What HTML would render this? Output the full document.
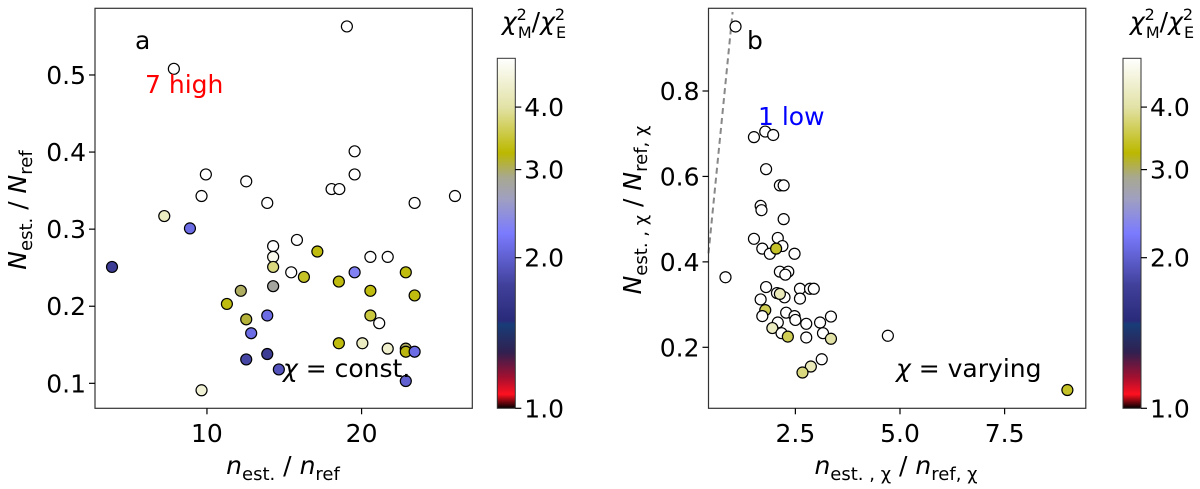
<!DOCTYPE html>
<html><head><meta charset="utf-8"><style>
body{margin:0;background:#fff}
svg{display:block;font-family:"DejaVu Sans","Liberation Sans",sans-serif}
</style></head><body>
<svg id="fig" width="1200" height="489" viewBox="0 0 1200 489" xmlns="http://www.w3.org/2000/svg">
<defs>
<linearGradient id="cmap" x1="0" y1="1" x2="0" y2="0">
<stop offset="0" stop-color="#000000"/><stop offset="0.04" stop-color="#ff1020"/>
<stop offset="0.09" stop-color="#a01030"/><stop offset="0.16" stop-color="#302050"/>
<stop offset="0.24" stop-color="#183c78"/><stop offset="0.25" stop-color="#2a2a7a"/>
<stop offset="0.35" stop-color="#40409a"/><stop offset="0.5" stop-color="#7b7bff"/>
<stop offset="0.6" stop-color="#a0a0c0"/><stop offset="0.66" stop-color="#a8a890"/>
<stop offset="0.73" stop-color="#bcb800"/><stop offset="0.86" stop-color="#e2e2a6"/>
<stop offset="1" stop-color="#ffffff"/>
</linearGradient>
</defs>
<g id="layer"></g>
</svg>
<script>
const aX=[19.05,7.86,19.55,9.93,19.55,12.54,18.06,18.56,9.65,26.04,13.9,23.43,7.24,8.9,3.86,14.28,15.82,14.28,17.14,20.57,21.69,14.28,15.45,16.27,19.55,22.86,18.53,14.28,12.19,20.57,23.43,11.29,12.54,13.9,20.57,21.14,12.86,18.53,20.05,21.69,22.86,22.86,23.43,12.54,13.9,14.65,22.86,9.65];
const aY=[0.563,0.508,0.401,0.371,0.371,0.362,0.352,0.352,0.343,0.343,0.334,0.334,0.317,0.301,0.251,0.278,0.286,0.264,0.271,0.264,0.264,0.251,0.244,0.238,0.244,0.244,0.232,0.226,0.220,0.220,0.214,0.203,0.183,0.188,0.188,0.178,0.165,0.152,0.152,0.145,0.145,0.141,0.141,0.131,0.138,0.118,0.103,0.091];
const aV=[5,5,5,5,5,5,5,5,5,5,5,5,4.3,2.1,1.7,5,5,4.8,3.3,5,5,3.8,5,3.4,2.3,3.3,3.3,2.8,3.0,3.3,3.3,3.3,3.1,2.1,3.5,5,2.1,3.3,4.3,4.4,3.0,3.2,2.1,1.8,1.7,1.9,2.0,4.5];
const bX=[1.07,1.51,1.78,1.97,1.80,2.13,2.22,1.67,1.69,2.22,1.51,2.08,1.71,1.89,2.19,2.04,2.48,0.83,2.13,2.33,2.26,1.80,2.06,2.24,2.13,2.61,2.61,2.85,2.94,1.67,1.78,1.71,2.28,2.48,2.5,2.08,2.76,3.09,3.35,1.95,2.17,3.16,2.32,2.76,3.35,4.71,3.13,2.87,2.67,9.0];
const bY=[0.951,0.692,0.705,0.697,0.617,0.579,0.579,0.531,0.521,0.500,0.454,0.456,0.431,0.419,0.437,0.431,0.419,0.364,0.377,0.377,0.370,0.341,0.327,0.317,0.325,0.337,0.314,0.337,0.337,0.312,0.287,0.273,0.281,0.273,0.264,0.258,0.255,0.258,0.272,0.245,0.233,0.233,0.225,0.223,0.220,0.227,0.172,0.155,0.141,0.100];
const bV=[5,5,5,5,5,5,5,5,5,5,5,5,5,5,5,3.4,5,5,5,5,5,5,5,5,4.2,5,5,5,5,5,3.6,5,5,5,5,5,5,5,5,4.3,5,5,3.6,5,4.0,5,5,4.2,3.8,3.4];
const aXTicks=[10,20], aYTicks=[0.1,0.2,0.3,0.4,0.5];
const bXTicks=[2.5,5.0,7.5], bYTicks=[0.2,0.4,0.6,0.8];
const cTicks=[1.0,2.0,3.0,4.0];
const dashX=[0.424,1.0], dashY=[0.42,0.985];

const NS="http://www.w3.org/2000/svg";
const L=document.getElementById('layer');
function mk(tag,attrs,parent){const e=document.createElementNS(NS,tag);for(const k in attrs)e.setAttribute(k,attrs[k]);(parent||L).appendChild(e);return e;}
const stops=[[0,[0,0,0]],[0.04,[255,16,32]],[0.09,[160,16,48]],[0.16,[48,32,80]],[0.24,[24,60,120]],[0.25,[42,42,122]],[0.35,[64,64,154]],[0.5,[123,123,255]],[0.6,[160,160,192]],[0.66,[168,168,144]],[0.73,[188,184,0]],[0.86,[226,226,166]],[1,[255,255,255]]];
function cmap(v){let t=Math.log(v)/Math.log(5);t=Math.max(0,Math.min(1,t));
for(let i=1;i<stops.length;i++){if(t<=stops[i][0]){const a=stops[i-1],b=stops[i];const f=(t-a[0])/(b[0]-a[0]);const c=a[1].map((x,j)=>Math.round(x+(b[1][j]-x)*f));return `rgb(${c.join(',')})`;}}return '#fff';}

function panel(p){
  const sx=v=>p.l+(v-p.x0)/(p.x1-p.x0)*(p.r-p.l);
  const sy=v=>p.b-(v-p.y0)/(p.y1-p.y0)*(p.b-p.t);
  const g=mk('g',{});
  
  
  if(p.dash){const ln=mk('line',{x1:sx(p.dash[0][0]),y1:sy(p.dash[1][0]),x2:sx(p.dash[0][1]),y2:sy(p.dash[1][1]),stroke:'#888','stroke-width':2,'stroke-dasharray':'6,4'},g);
    
    }
  for(let i=0;i<p.X.length;i++){
    const c=mk('circle',{cx:sx(p.X[i]),cy:sy(p.Y[i]),r:5.5,fill:cmap(p.V[i]),stroke:'#000','stroke-width':1.2},g);
    
    
  }
  const fr=mk('rect',{x:p.l,y:p.t,width:p.r-p.l,height:p.b-p.t,fill:'none',stroke:'#333','stroke-width':1.2},g);
  
  
  p.xt.forEach(v=>{const x=sx(v);mk('line',{x1:x,y1:p.b,x2:x,y2:p.b+6,stroke:'#000','stroke-width':1.2},g);
    const t=mk('text',{x:x,y:442,'font-size':25,'text-anchor':'middle'},g);t.textContent=v.toFixed(p.xd);
    
    });
  p.yt.forEach(v=>{const y=sy(v);mk('line',{x1:p.l-6,y1:y,x2:p.l,y2:y,stroke:'#000','stroke-width':1.2},g);
    const t=mk('text',{x:p.l-9,y:y+9,'font-size':25,'text-anchor':'end'},g);t.textContent=v.toFixed(1);
    
    });
  const cb=mk('rect',{x:p.cbx,y:58.3,width:18,height:350,fill:'url(#cmap)',stroke:'#333','stroke-width':1},g);
  
  
  cTicks.forEach(v=>{const y=408.3-Math.log10(v)*500.3;mk('line',{x1:p.cbx+18,y1:y,x2:p.cbx+24,y2:y,stroke:'#000','stroke-width':1.2},g);
    const t=mk('text',{x:p.cbx+27,y:y+9,'font-size':25},g);t.textContent=v.toFixed(1);
    
    });
}
panel({name:'panel-a',l:95,r:472.3,t:8.3,b:408.3,x0:2.76,x1:27.16,y0:0.0676,y1:0.5865,X:aX,Y:aY,V:aV,xt:aXTicks,yt:aYTicks,xd:0,cbx:497.3});
panel({name:'panel-b',l:708.5,r:1085.8,t:8.3,b:408.3,x0:0.424,x1:9.44,y0:0.0572,y1:0.9936,X:bX,Y:bY,V:bV,xt:bXTicks,yt:bYTicks,xd:1,cbx:1123,dash:[dashX,dashY]});
</script>
<svg width="1200" height="489" style="position:absolute;left:0;top:0" font-family="DejaVu Sans, Liberation Sans, sans-serif">
<text x="135" y="49" font-size="25">a</text>
<text x="145" y="93" font-size="25" fill="#ff0000">7 high</text>
<text x="283" y="377" font-size="25"><tspan font-style="italic">χ</tspan> = const.</text>
<text x="747" y="49" font-size="25">b</text>
<text x="758" y="125" font-size="25" fill="#0000ff">1 low</text>
<text x="896" y="377" font-size="25"><tspan font-style="italic">χ</tspan> = varying</text>
<text x="534" y="30" font-size="25" text-anchor="middle"><tspan font-style="italic">χ</tspan><tspan font-size="16" dy="-10">2</tspan><tspan font-size="16" dx="-9" dy="18">M</tspan><tspan dy="-8">/</tspan><tspan font-style="italic">χ</tspan><tspan font-size="16" dy="-10">2</tspan><tspan font-size="16" dx="-9" dy="18">E</tspan></text>
<text x="1162" y="30" font-size="25" text-anchor="middle"><tspan font-style="italic">χ</tspan><tspan font-size="16" dy="-10">2</tspan><tspan font-size="16" dx="-9" dy="18">M</tspan><tspan dy="-8">/</tspan><tspan font-style="italic">χ</tspan><tspan font-size="16" dy="-10">2</tspan><tspan font-size="16" dx="-9" dy="18">E</tspan></text>
<text x="283" y="474" font-size="25" text-anchor="middle"><tspan font-style="italic">n</tspan><tspan font-size="18" dy="6">est.</tspan><tspan dy="-6"> / </tspan><tspan font-style="italic">n</tspan><tspan font-size="18" dy="6">ref</tspan></text>
<text transform="translate(26,210) rotate(-90)" font-size="25" text-anchor="middle"><tspan font-style="italic">N</tspan><tspan font-size="18" dy="6">est.</tspan><tspan dy="-6"> / </tspan><tspan font-style="italic">N</tspan><tspan font-size="18" dy="6">ref</tspan></text>
<text x="896" y="474" font-size="25" text-anchor="middle"><tspan font-style="italic">n</tspan><tspan font-size="18" dy="6">est. , χ</tspan><tspan dy="-6"> / </tspan><tspan font-style="italic">n</tspan><tspan font-size="18" dy="6">ref, χ</tspan></text>
<text transform="translate(641,210) rotate(-90)" font-size="25" text-anchor="middle"><tspan font-style="italic">N</tspan><tspan font-size="18" dy="6">est. , χ</tspan><tspan dy="-6"> / </tspan><tspan font-style="italic">N</tspan><tspan font-size="18" dy="6">ref, χ</tspan></text>
</svg>
</body></html>
